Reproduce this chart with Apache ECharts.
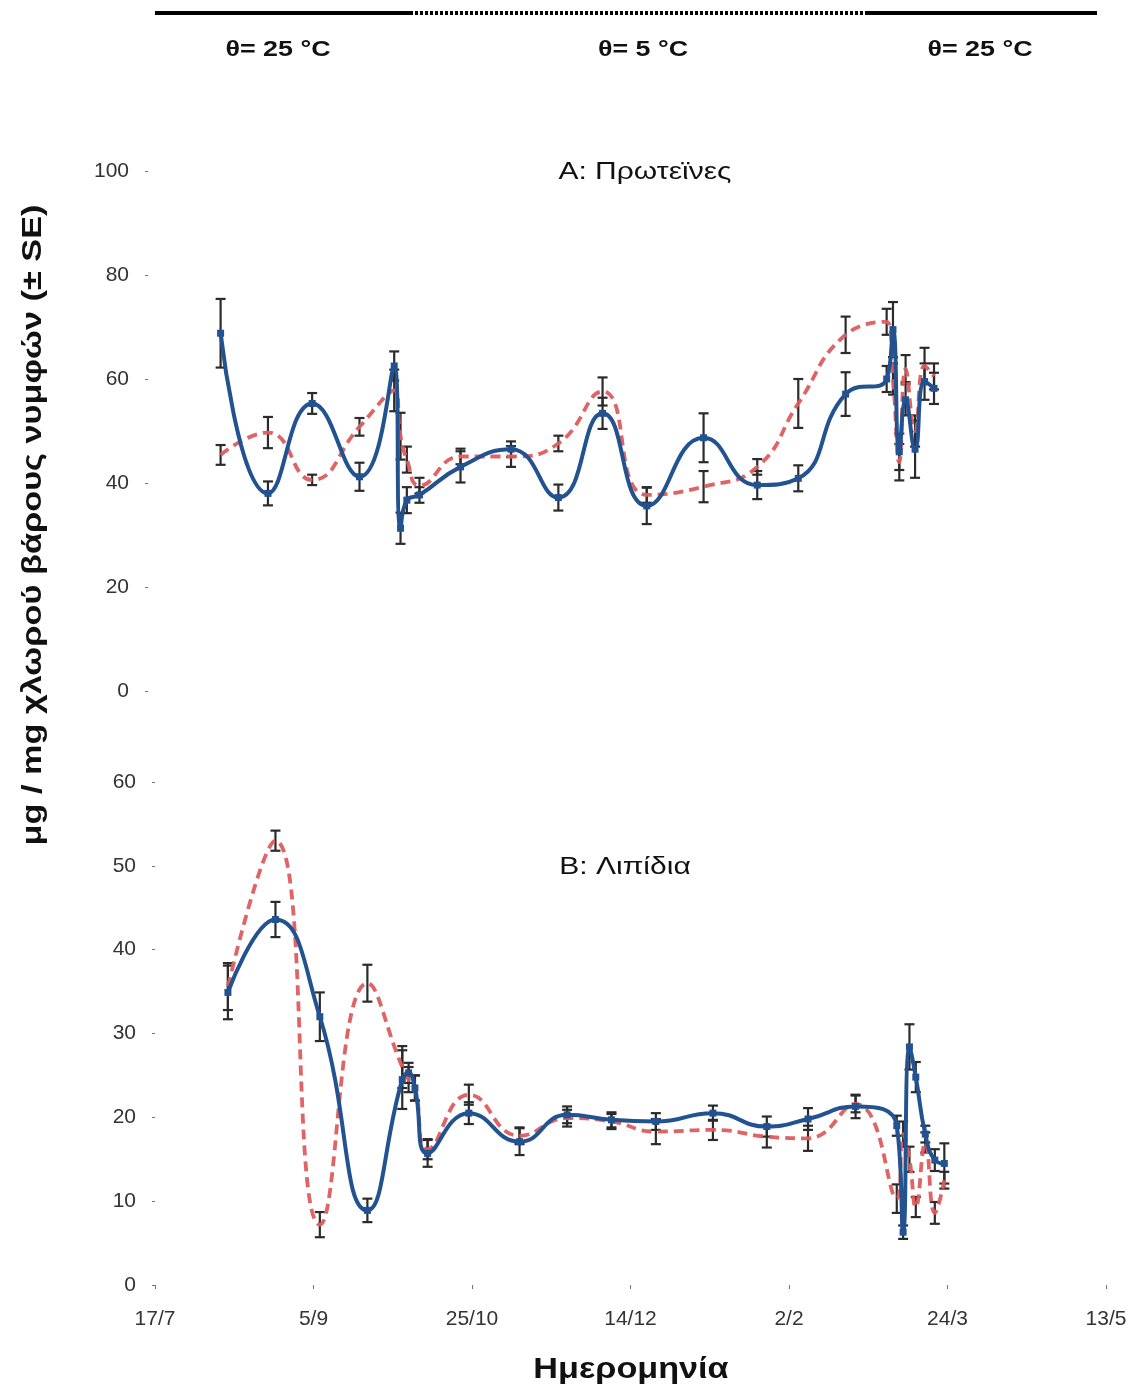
<!DOCTYPE html>
<html><head><meta charset="utf-8">
<script src="https://cdn.jsdelivr.net/npm/echarts@6/dist/echarts.min.js"></script>
<style>html,body{margin:0;padding:0;background:#fff}#c{width:1136px;height:1392px}</style>
</head><body><div id="c"></div>
<script>
// sampling dates, in days after 17/7
const days = [23, 38, 52, 67, 78, 80, 82, 86, 99, 115, 130, 144, 158, 176, 193, 206, 221, 234, 236, 238, 240, 243, 246, 249];
const xTickLabels = ['17/7', '5/9', '25/10', '14/12', '2/2', '24/3', '13/5'];

// A: proteins
const proteinBlue   = [68.8, 38.0, 55.3, 41.2, 62.5, 31.3, 36.7, 37.7, 43.1, 46.5, 37.2, 53.4, 35.6, 48.7, 39.6, 40.9, 57.1, 60.0, 69.5, 46.0, 56.0, 46.5, 59.5, 58.2];
const proteinBlueSE = [6.6, 2.3, 2.0, 2.7, 2.8, 3.0, 2.5, 1.5, 3.0, 1.5, 2.5, 3.0, 3.5, 4.7, 2.7, 2.5, 4.2, 2.5, 5.3, 3.5, 3.0, 5.5, 3.5, 3.0];
const proteinRed    = [45.4, 49.7, 40.6, 50.8, 57.8, 49.0, 44.5, 39.5, 45.1, 45.1, 47.6, 57.6, 37.7, 39.3, 43.1, 55.3, 68.5, 71.0, 60.0, 44.0, 62.0, 50.0, 62.5, 60.5];
const proteinRedSE  = [1.9, 3.0, 1.0, 1.7, 4.0, 4.5, 2.5, 1.5, 1.5, 2.0, 1.5, 2.7, 1.5, 3.0, 1.5, 4.7, 3.5, 2.5, 3.0, 3.5, 2.6, 3.0, 3.5, 2.5];

// B: lipids
const lipidBlue   = [34.9, 43.6, 32.0, 8.9, 24.5, 25.3, 23.5, 15.7, 20.5, 17.1, 20.3, 19.7, 19.5, 20.5, 18.9, 19.8, 21.3, 19.0, 6.3, 28.4, 24.8, 18.0, 14.9, 14.5];
const lipidBlueSE = [3.2, 2.1, 2.9, 1.4, 3.5, 1.2, 1.5, 1.6, 1.3, 1.6, 1.0, 0.9, 1.0, 0.9, 1.2, 1.3, 1.4, 1.2, 0.8, 2.7, 1.8, 1.0, 1.3, 2.4];
const lipidRed    = [35.6, 53.0, 7.2, 36.0, 26.0, 24.5, 23.5, 16.2, 22.7, 17.8, 19.9, 19.5, 18.3, 18.5, 17.7, 17.5, 21.6, 10.3, 18.0, 15.0, 9.3, 17.0, 8.6, 12.5];
const lipidRedSE  = [2.8, 1.2, 1.5, 2.2, 2.5, 1.5, 1.5, 1.2, 1.2, 1.0, 1.0, 0.9, 1.5, 1.2, 1.3, 1.5, 1.0, 1.7, 1.5, 1.5, 1.2, 1.2, 1.3, 1.0];

const tempLabels = ['θ= 25 °C', 'θ= 5 °C', 'θ= 25 °C'];
const panelTitles = ['A: Πρωτεϊνες', 'B: Λιπίδια'];
const yAxisTitle = 'μg / mg χλωρού βάρους νυμφών (± SE)';
const xAxisTitle = 'Ημερομηνία';

const BLUE = '#22528f';
const RED = '#dc5c5e';
const FONT = 'Liberation Sans, Arial, sans-serif';

function pts(vals) { return days.map((d, i) => [d, vals[i]]); }
function errs(vals, se) { return days.map((d, i) => [d, vals[i] - se[i], vals[i] + se[i]]); }

function errSeries(idx, vals, se) {
  return {
    type: 'custom', xAxisIndex: idx, yAxisIndex: idx, z: 1, silent: true,
    data: errs(vals, se),
    encode: { x: 0, y: [1, 2] },
    renderItem: function (params, api) {
      const x = api.value(0);
      const lo = api.coord([x, api.value(1)]);
      const hi = api.coord([x, api.value(2)]);
      const w = 5;
      const style = { stroke: '#2b2b2b', lineWidth: 2.2 };
      return {
        type: 'group', children: [
          { type: 'line', shape: { x1: lo[0], y1: lo[1], x2: hi[0], y2: hi[1] }, style: style },
          { type: 'line', shape: { x1: lo[0] - w, y1: lo[1], x2: lo[0] + w, y2: lo[1] }, style: style },
          { type: 'line', shape: { x1: hi[0] - w, y1: hi[1], x2: hi[0] + w, y2: hi[1] }, style: style }
        ]
      };
    }
  };
}
function blueSeries(idx, vals) {
  return { type: 'line', xAxisIndex: idx, yAxisIndex: idx, data: pts(vals), smooth: 0.5, z: 3,
    symbol: 'rect', symbolSize: 7, showSymbol: true,
    itemStyle: { color: BLUE }, lineStyle: { color: BLUE, width: 4 } };
}
function redSeries(idx, vals) {
  return { type: 'line', xAxisIndex: idx, yAxisIndex: idx, data: pts(vals), smooth: 0.5, z: 2,
    symbol: 'none',
    lineStyle: { color: RED, width: 3.8, type: [10, 6], opacity: 0.95 } };
}

const yAxisCommon = {
  type: 'value', splitLine: { show: false }, axisLine: { show: false },
  axisTick: { show: true, length: 3, lineStyle: { color: '#777' } },
  axisLabel: { margin: 19, fontSize: 21, color: '#333', fontFamily: FONT }
};

function txt(x, y, text, font, sx) {
  return { type: 'text', x: x, y: y, scaleX: sx || 1,
    style: { text: text, font: font, fill: '#111', textAlign: 'center', textVerticalAlign: 'middle' } };
}

const chart = echarts.init(document.getElementById('c'));
chart.setOption({
  backgroundColor: '#fff',
  animation: false,
  grid: [
    { left: 148, top: 171, width: 947, height: 520 },
    { left: 155, top: 782, width: 951, height: 503 }
  ],
  xAxis: [
    { type: 'value', gridIndex: 0, min: 0, max: 300, show: false },
    { type: 'value', gridIndex: 1, min: 0, max: 300, interval: 50,
      splitLine: { show: false }, axisLine: { show: false },
      axisTick: { show: true, length: 4, lineStyle: { color: '#777' } },
      axisLabel: { margin: 24, fontSize: 21, color: '#333', fontFamily: FONT,
        formatter: v => xTickLabels[Math.round(v / 50)] } }
  ],
  yAxis: [
    Object.assign({}, yAxisCommon, { gridIndex: 0, min: 0, max: 100, interval: 20 }),
    Object.assign({}, yAxisCommon, { gridIndex: 1, min: 0, max: 60, interval: 10 })
  ],
  series: [
    errSeries(0, proteinBlue, proteinBlueSE),
    errSeries(0, proteinRed, proteinRedSE),
    redSeries(0, proteinRed),
    blueSeries(0, proteinBlue),
    errSeries(1, lipidBlue, lipidBlueSE),
    errSeries(1, lipidRed, lipidRedSE),
    redSeries(1, lipidRed),
    blueSeries(1, lipidBlue)
  ],
  graphic: [
    { type: 'line', shape: { x1: 155, y1: 13, x2: 410, y2: 13 }, style: { stroke: '#000', lineWidth: 4 } },
    { type: 'line', shape: { x1: 410, y1: 13, x2: 868, y2: 13 }, style: { stroke: '#000', lineWidth: 4, lineDash: [3, 2] } },
    { type: 'line', shape: { x1: 868, y1: 13, x2: 1097, y2: 13 }, style: { stroke: '#000', lineWidth: 4 } },
    txt(278, 50, tempLabels[0], 'bold 22px ' + FONT, 1.22),
    txt(643, 50, tempLabels[1], 'bold 22px ' + FONT, 1.22),
    txt(980, 50, tempLabels[2], 'bold 22px ' + FONT, 1.22),
    txt(645, 172, panelTitles[0], '24px ' + FONT, 1.25),
    txt(625, 867, panelTitles[1], '24px ' + FONT, 1.25),
    txt(631, 1370, xAxisTitle, 'bold 30px ' + FONT, 1.14),
    { type: 'text', x: 34, y: 525, rotation: Math.PI / 2, scaleX: 1.27,
      style: { text: yAxisTitle, font: 'bold 27px ' + FONT, fill: '#111', textAlign: 'center', textVerticalAlign: 'middle' } }
  ]
});
</script>
</body></html>
